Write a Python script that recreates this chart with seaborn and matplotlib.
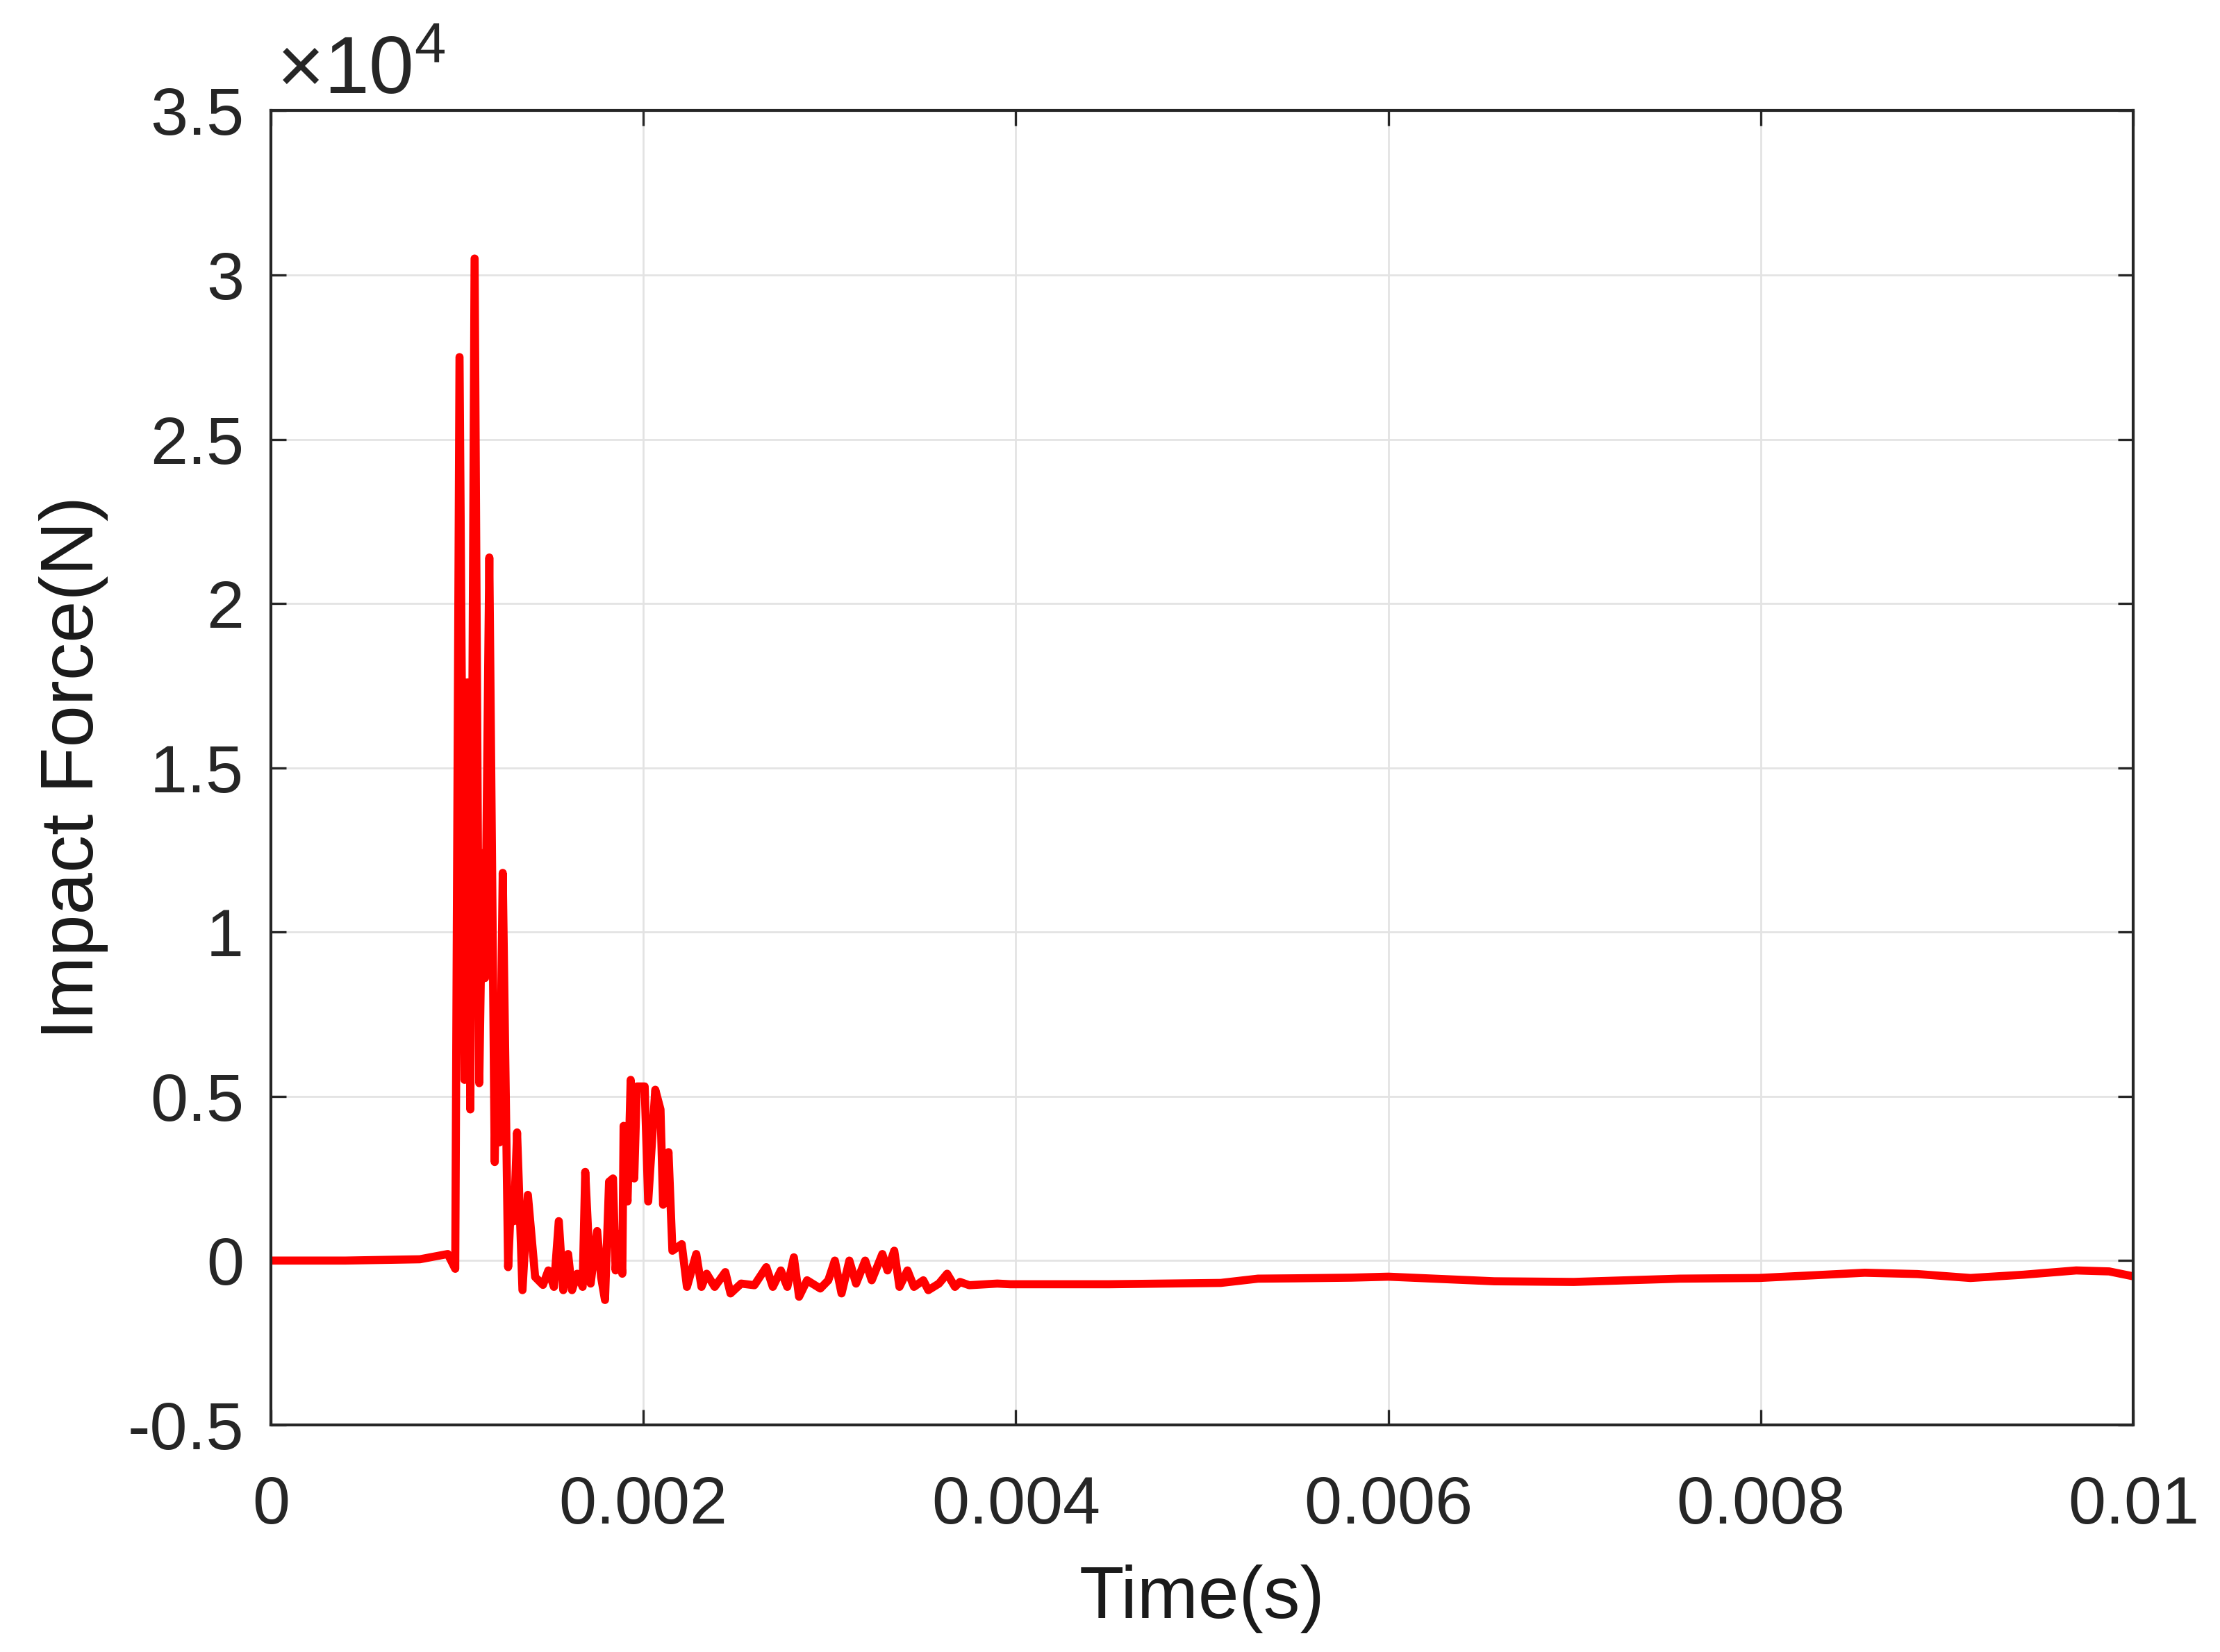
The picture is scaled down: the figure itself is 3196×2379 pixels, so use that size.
import seaborn as sns
import matplotlib
matplotlib.use("Agg")
import matplotlib.pyplot as plt
from matplotlib.ticker import FuncFormatter
import pandas as pd

# time (s) and impact force (N)
tiempo = [0.0, 0.0004, 0.0008, 0.00095, 0.00099, 0.001013, 0.00104, 0.001056, 0.001071, 0.001094,
          0.001119, 0.001137, 0.00115, 0.001173, 0.001202, 0.001215, 0.001228, 0.001245, 0.001274, 0.00129,
          0.001305, 0.001322, 0.001351, 0.00138, 0.001419, 0.001461, 0.00149, 0.00152, 0.001546, 0.00157,
          0.001596, 0.001617, 0.001645, 0.001674, 0.001688, 0.001717, 0.001752, 0.001773, 0.001794, 0.001816,
          0.001837, 0.001851, 0.001865, 0.001887, 0.001894, 0.001915, 0.001932, 0.001951, 0.001965, 0.002007,
          0.002026, 0.002064, 0.002092, 0.002106, 0.002135, 0.002156, 0.002206, 0.002234, 0.002284, 0.002312,
          0.00234, 0.002383, 0.00244, 0.002468, 0.002525, 0.002596, 0.00266, 0.002695, 0.002738, 0.002773,
          0.002808, 0.002836, 0.002879, 0.00295, 0.002993, 0.003028, 0.003064, 0.003106, 0.003142, 0.003191,
          0.003226, 0.003283, 0.003311, 0.003347, 0.003375, 0.003418, 0.003453, 0.003503, 0.00353, 0.003587,
          0.003631, 0.003673, 0.0037, 0.00375, 0.0039, 0.00397, 0.0042, 0.0045, 0.0048, 0.0051,
          0.0053, 0.0055, 0.0058, 0.006, 0.006568, 0.006995, 0.007563, 0.007989, 0.008557, 0.00884,
          0.009125, 0.00941, 0.009693, 0.00987, 0.01]
fuerza = [0, 0, 40, 200, -250, 27500, 5500, 17600, 4600, 30500,
          5400, 12400, 8600, 21400, 3000, 7700, 3600, 11800, -200, 1900,
          1200, 3900, -900, 2000, -500, -740, -300, -800, 1200, -900,
          200, -900, -400, -800, 2700, -700, 900, -500, -1200, 2400,
          2500, -300, 800, -400, 4100, 1800, 5500, 2500, 5300, 5300,
          1800, 5200, 4600, 1700, 3300, 300, 500, -800, 200, -800,
          -400, -800, -350, -1000, -700, -750, -200, -800, -300, -800,
          100, -1100, -600, -850, -600, 0, -1000, 0, -700, 0,
          -600, 200, -300, 300, -800, -300, -800, -600, -900, -700,
          -400, -800, -650, -750, -700, -720, -720, -720, -700, -680,
          -550, -540, -520, -490, -630, -650, -550, -530, -370, -410,
          -530, -430, -300, -330, -480]

x_ticks = [0, 0.002, 0.004, 0.006, 0.008, 0.01]
y_ticks = [-5000, 0, 5000, 10000, 15000, 20000, 25000, 30000, 35000]

sns.set_theme(style="whitegrid")
plt.rcParams['font.family'] = ['Liberation Sans', 'DejaVu Sans']
plt.rcParams['mathtext.fontset'] = 'custom'
plt.rcParams['mathtext.rm'] = 'Liberation Sans'
plt.rcParams['mathtext.it'] = 'Liberation Sans'

df = pd.DataFrame({'Tiempo': tiempo, 'Fuerza': fuerza})

fig = plt.figure(figsize=(15.98, 11.895), dpi=200)
fig.patch.set_facecolor('white')
ax = fig.add_axes([0.122, 0.1375, 0.839, 0.7955])
ax.set_facecolor('white')

sns.lineplot(data=df, x='Tiempo', y='Fuerza', color='#ff0000', linewidth=4.2,
             estimator=None, sort=False, ax=ax)

ax.set_xlim(0, 0.01)
ax.set_ylim(-5000, 35000)
ax.set_xticks(x_ticks)
ax.set_yticks(y_ticks)
ax.xaxis.set_major_formatter(FuncFormatter(lambda v, p: '%g' % round(v, 6)))
ax.yaxis.set_major_formatter(FuncFormatter(lambda v, p: '%g' % (v / 1e4)))
ax.grid(True, color='#e3e3e3', linewidth=1.0)
ax.tick_params(axis='both', which='both', direction='in', length=8, width=1.2,
               color='#262626', labelsize=35, labelcolor='#262626',
               top=True, right=True, bottom=True, left=True)
ax.tick_params(axis='x', pad=26)
ax.tick_params(axis='y', pad=14)
for s in ax.spines.values():
    s.set_visible(True)
    s.set_color('#262626')
    s.set_linewidth(1.5)

ax.set_xlabel('Time(s)', fontsize=38, color='#1a1a1a', labelpad=14)
ax.set_ylabel('Impact Force(N)', fontsize=39, color='#1a1a1a', labelpad=10)
ax.text(0.003, 1.0, r'$\times10^{4}$', transform=ax.transAxes, ha='left', va='bottom',
        fontsize=42, color='#262626')

fig.savefig('out.png', dpi=200, facecolor='white')
